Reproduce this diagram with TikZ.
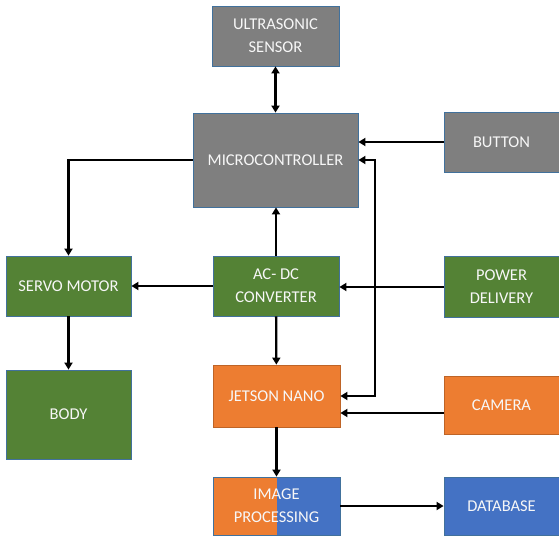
\documentclass[tikz,border=0pt]{standalone}
\usepackage{fontspec}
\setmainfont{Carlito}
\usepackage{xcolor}
\usepackage{tikz}
\usetikzlibrary{arrows.meta}
\usetikzlibrary{positioning}

\definecolor{boxgray}{HTML}{7F7F7F}
\definecolor{boxgreen}{HTML}{548235}
\definecolor{boxorange}{HTML}{ED7D31}
\definecolor{boxblue}{HTML}{4472C4}
\definecolor{boxedge}{HTML}{41719C}

\begin{document}
\begin{tikzpicture}[x=1pt, y=-1pt,
        block/.style={rectangle, draw=boxedge, line width=0.8pt, inner sep=0pt, align=center,
            text=white!94!gray, font=\fontsize{16.5}{23}\selectfont},
        arr/.style={line width=2.3pt, -{Triangle[length=7pt,width=8pt]}},
        biarr/.style={line width=2.3pt, {Triangle[length=7pt,width=8pt]}-{Triangle[length=7pt,width=8pt]}}]

        \useasboundingbox (0,0) rectangle (559,535);

        \node[block, fill=boxgray, minimum width=127pt, minimum height=60pt] (ultra) at (275.5,36) {ULTRASONIC\\SENSOR};
        \node[block, fill=boxgray, minimum width=165pt, minimum height=94pt] (micro) at (275.5,160) {MICROCONTROLLER};
        \node[block, fill=boxgray, minimum width=115pt, minimum height=60pt] (button) at (501.5,142) {BUTTON};

        \node[block, fill=boxgreen, minimum width=125pt, minimum height=60pt] (servo) at (68.5,286) {SERVO MOTOR};
        \node[block, fill=boxgreen, minimum width=126pt, minimum height=60pt] (acdc) at (276,286) {AC- DC\\CONVERTER};
        \node[block, fill=boxgreen, minimum width=115pt, minimum height=61pt] (power) at (501.5,287) {POWER\\DELIVERY};
        \node[block, fill=boxgreen, minimum width=125pt, minimum height=89pt] (body) at (68.5,414.5) {BODY};

        \node[block, fill=boxorange, draw=boxorange!80!black, minimum width=127pt, minimum height=62pt] (jetson) at (276.5,396) {JETSON NANO};
        \node[block, fill=boxorange, draw=boxorange!80!black, minimum width=115pt, minimum height=58pt] (camera) at (501.5,405) {CAMERA};

        \node[block, fill=boxblue, minimum width=127pt, minimum height=58pt,
            path picture={\fill[boxorange] (path picture bounding box.south west) rectangle (path picture bounding box.north);}]
            (image) at (276.5,506) {IMAGE\\PROCESSING};
        \node[block, fill=boxblue, minimum width=115pt, minimum height=58pt] (database) at (501.5,506) {DATABASE};

        \coordinate (bus) at (375,277);

        \draw[biarr] (ultra.south) -- (ultra.south |- micro.north);
        \draw[arr] (button) -- (button -| micro.east);
        \draw[biarr] (micro.east) -| (bus) |- (jetson.east);
        \draw[arr] (micro.west) -| (servo.north);
        \draw[arr] (acdc.north) -- (acdc.north |- micro.south);
        \draw[arr] (acdc) -- (servo);
        \draw[arr] (power) -- (power -| acdc.east);
        \draw[arr] (servo) -- (body);
        \draw[arr] (acdc) -- (jetson);
        \draw[arr] ([yshift=-8pt]camera.west) -- ([yshift=-8pt]camera.west -| jetson.east);
        \draw[arr] (jetson) -- (image);
        \draw[arr] (image) -- (database);

    \end{tikzpicture}
\end{document}
